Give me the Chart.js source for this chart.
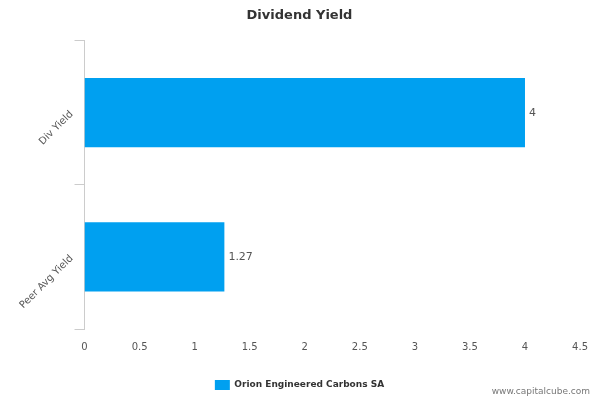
<!DOCTYPE html>
<html><head><meta charset="utf-8">
<script src="https://cdn.jsdelivr.net/npm/chart.js@4"></script>
<style>html,body{margin:0;padding:0;background:#fff}#w{position:relative;width:600px;height:400px}</style>
</head><body><div id="w"><canvas id="c" width="600" height="400"></canvas></div>
<script>
const categories = ["Div Yield", "Peer Avg Yield"];
const values = [4, 1.27];
const valueLabels = ["4", "1.27"];
const seriesName = "Orion Engineered Carbons SA";
const xTicks = ["0","0.5","1","1.5","2","2.5","3","3.5","4","4.5"];

const labelPlugin = {
  id: 'lbl',
  afterDatasetsDraw(chart) {
    const ctx = chart.ctx;
    const meta = chart.getDatasetMeta(0);
    ctx.save();
    ctx.font = '11px "DejaVu Sans", Verdana, sans-serif';
    ctx.fillStyle = '#555';
    ctx.textBaseline = 'middle';
    meta.data.forEach((b, i) => { ctx.fillText(valueLabels[i], b.x + 4, b.y); });
    ctx.fillStyle = '#777';
    ctx.font = '9px "DejaVu Sans", Verdana, sans-serif';
    ctx.textAlign = 'right';
    ctx.fillText('www.capitalcube.com', 590, 392);
    ctx.restore();
  }
};

new Chart(document.getElementById('c'), {
  type: 'bar',
  data: { labels: categories, datasets: [{ label: seriesName, data: values, backgroundColor: '#00a0f0', barPercentage: 0.48, categoryPercentage: 1 }] },
  options: {
    indexAxis: 'y', responsive: false, animation: false,
    layout: { padding: { left: 10, right: 11, top: 0, bottom: 0 } },
    plugins: {
      title: { display: true, text: 'Dividend Yield', color: '#333', font: { family: '"DejaVu Sans", Verdana, sans-serif', size: 13, weight: 'bold' }, padding: { top: 8, bottom: 17 } },
      legend: { position: 'bottom', labels: { color: '#333', boxWidth: 15, boxHeight: 10, font: { family: '"DejaVu Sans", Verdana, sans-serif', size: 9, weight: 'bold' }, padding: 15 } },
      tooltip: { enabled: false }
    },
    scales: {
      x: { min: 0, max: 4.5, grid: { display: false, drawTicks: false }, border: { display: false },
           ticks: { stepSize: 0.5, padding: 12, color: '#555', font: { family: '"DejaVu Sans", Verdana, sans-serif', size: 10 }, callback: (v, i) => xTicks[i] } },
      y: { grid: { display: true, drawOnChartArea: false, offset: true, color: '#ccc', tickLength: 10 }, border: { display: true, color: '#ccc' },
           ticks: { minRotation: 45, maxRotation: 45, color: '#555', font: { family: '"DejaVu Sans", Verdana, sans-serif', size: 10 } } }
    }
  },
  plugins: [labelPlugin]
});
</script></body></html>
